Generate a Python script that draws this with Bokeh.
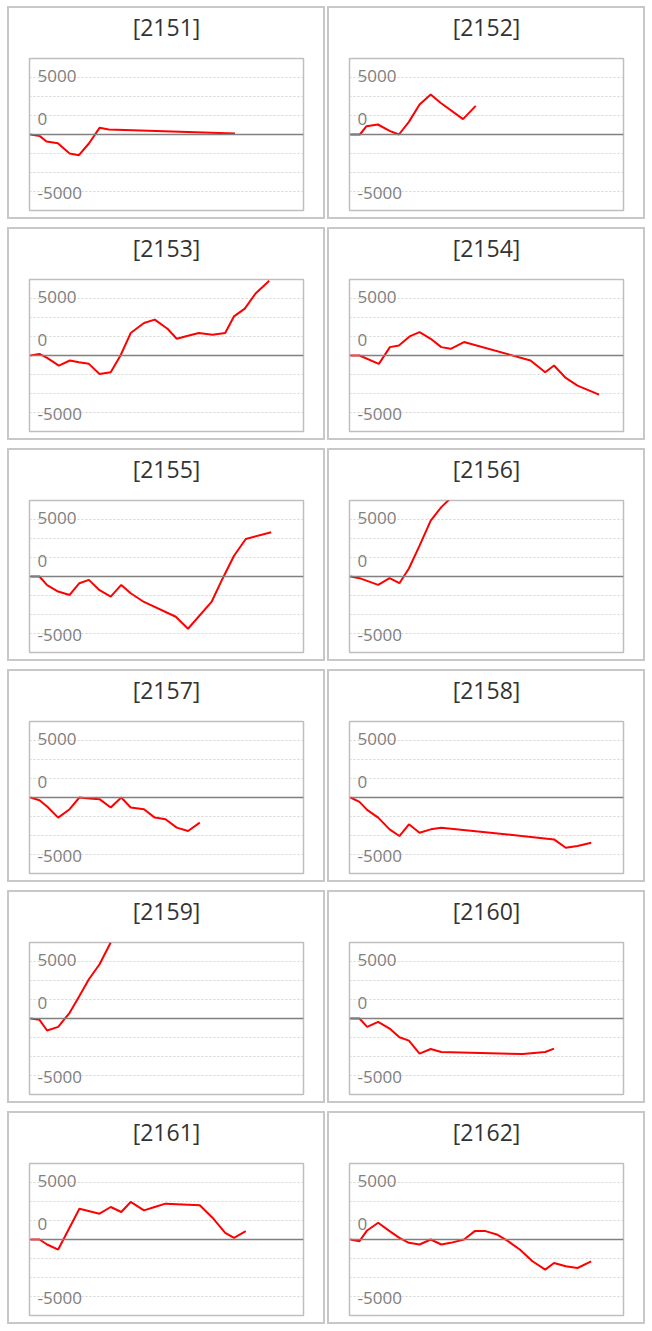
from bokeh.plotting import figure
from bokeh.layouts import gridplot
from bokeh.models import Span, FixedTicker, Range1d, Grid, Title
from bokeh.core.properties import value
from bokeh.embed import file_html
from bokeh.resources import INLINE

codes = ["2151", "2152", "2153", "2154", "2155", "2156",
         "2157", "2158", "2159", "2160", "2161", "2162"]

x2151 = [0, 0.96, 1.64, 2.8, 4.0, 4.95, 5.97, 7.06, 8.0, 20.9]
y2151 = [0, -140, -600, -740, -1620, -1770, -770, 570, 430, 85]

x2152 = [0, 0.96, 1.64, 2.8, 4.0, 4.95, 5.97, 7.06, 8.2, 9.2, 11.5, 12.8]
y2152 = [0, 0, 710, 855, 310, 0, 1080, 2565, 3420, 2710, 1310, 2450]

x2153 = [0, 0.92, 1.7, 2.9, 4.03, 4.95, 5.97, 7.06, 8.2, 9.2, 10.24, 11.6,
         12.7, 14.0, 14.95, 16.0, 17.2, 18.6, 19.9, 20.8, 21.9, 23.0, 24.4]
y2153 = [0, 140, -200, -860, -430, -570, -715, -1580, -1430, 0, 1920, 2780,
         3070, 2290, 1430, 1660, 1920, 1780, 1920, 3350, 4010, 5300, 6400]

x2154 = [0, 0.92, 2.9, 4.03, 4.95, 6.04, 7.06, 8.2, 9.28, 10.24, 11.6,
         18.4, 19.9, 20.8, 22.0, 23.2, 25.4]
y2154 = [0, 0, -715, 715, 860, 1630, 2000, 1430, 715, 570, 1150,
         -430, -1430, -860, -1920, -2580, -3350]

x2155 = [0, 0.92, 1.7, 2.83, 4.0, 5.0, 5.97, 7.06, 8.2, 9.28, 10.24, 11.6,
         14.85, 16.1, 18.5, 19.6, 20.8, 22.0, 24.6]
y2155 = [0, 0, -745, -1290, -1576, -573, -287, -1175, -1720, -717, -1433, -2178,
         -3440, -4470, -2178, -230, 1777, 3210, 3783]

x2156 = [0, 0.92, 2.83, 4.0, 5.0, 5.97, 7.06, 8.2, 9.28, 10.24]
y2156 = [0, -143, -717, -143, -573, 688, 2637, 4786, 5933, 6700]

x2157 = [0, 0.92, 1.7, 2.83, 4.0, 5.0, 5.97, 7.06, 8.2, 9.28, 10.24, 11.6,
         12.7, 13.8, 14.95, 16.1, 17.3]
y2157 = [0, -230, -774, -1720, -1003, 0, -86, -143, -860, 0, -860, -1003,
         -1720, -1863, -2580, -2866, -2150]

x2158 = [0, 0.92, 1.7, 2.83, 4.0, 5.0, 5.97, 7.06, 8.2, 9.28, 20.8, 22.0, 23.2, 24.6]
y2158 = [0, -373, -1060, -1720, -2723, -3296, -2293, -3009, -2723, -2580,
         -3583, -4300, -4156, -3870]

x2159 = [0, 0.92, 1.7, 2.83, 4.0, 5.0, 5.97, 7.06, 8.2]
y2159 = [0, -115, -1030, -717, 487, 1920, 3353, 4643, 6500]

x2160 = [0, 0.92, 1.7, 2.83, 4.0, 5.0, 5.97, 7.06, 8.2, 9.28, 17.6, 19.9, 20.8]
y2160 = [0, 0, -717, -287, -860, -1605, -1890, -3009, -2608, -2866, -3038, -2866, -2580]

x2161 = [0, 0.92, 1.7, 2.83, 5.0, 7.06, 8.2, 9.28, 10.24, 11.6, 12.7, 13.8,
         17.3, 18.6, 19.9, 20.8, 22.0]
y2161 = [0, 0, -430, -860, 2637, 2207, 2780, 2350, 3210, 2493, 2780, 3067,
         2923, 1863, 573, 143, 717]

x2162 = [0, 0.92, 1.7, 2.83, 4.0, 5.0, 5.97, 7.06, 8.2, 9.28, 10.24, 11.6,
         12.7, 13.8, 14.95, 16.1, 17.3, 18.6, 19.9, 20.8, 22.0, 23.2, 24.6]
y2162 = [0, -143, 774, 1433, 717, 143, -287, -430, 0, -430, -287, 0,
         717, 717, 430, -143, -860, -1863, -2580, -2006, -2293, -2436, -1863]

tick_values = [5000, -5000]
tick_labels = ["5000", "-5000"]
zero_label = "0"
grid_values = [-4875, -3250, -1625, 1625, 3250, 4875]

xs_all = [x2151, x2152, x2153, x2154, x2155, x2156, x2157, x2158, x2159, x2160, x2161, x2162]
ys_all = [y2151, y2152, y2153, y2154, y2155, y2156, y2157, y2158, y2159, y2160, y2161, y2162]

FONT = "Open Sans"
figs = []
for i, code in enumerate(codes):
    p = figure(width=318, height=213, output_backend="svg", toolbar_location=None, tools="",
               x_range=Range1d(-0.1, 27.9), y_range=Range1d(-6500, 6500),
               x_axis_location=None, y_axis_location=None,
               min_border_left=22, min_border_right=22, min_border_top=52,
               min_border_bottom=9,
               styles={"box-shadow": "inset 0 0 0 2px #c8c8c8"})
    p.grid.visible = False
    p.title.text = ""
    # spacer between the frame and the panel title
    p.add_layout(Title(text=" ", text_font_size="1px", standoff=11), "above")
    p.add_layout(Title(text="[" + code + "]", align="center", vertical_align="bottom",
                       text_font=FONT, text_font_size="23px", text_font_style="normal",
                       text_color="#333333", standoff=4), "above")
    p.outline_line_color = "#bfbfbf"
    p.outline_line_width = 1.5
    p.background_fill_color = "white"
    p.border_fill_alpha = 0

    g = Grid(dimension=1, ticker=FixedTicker(ticks=grid_values),
             grid_line_color="#d3d3d3", grid_line_dash="2 2", grid_line_width=1)
    p.add_layout(g, "center")
    p.add_layout(Span(location=0, dimension="width", line_color="#808080", line_width=1.5))

    p.text(x=[p.x_range.start] * len(tick_values), y=tick_values, text=tick_labels,
           x_offset=8, text_align="left", text_baseline="middle",
           text_font=value(FONT), text_font_size="17px", text_color="#808080")
    p.text(x=[p.x_range.start], y=[0], text=[zero_label],
           x_offset=8, y_offset=-16, text_align="left", text_baseline="middle",
           text_font=value(FONT), text_font_size="17px", text_color="#808080")

    p.line(xs_all[i], ys_all[i], line_color="#ff0000", line_width=2)
    figs.append(p)

grid = gridplot(figs, ncols=2, toolbar_location=None)
grid.spacing = (8, 2)
grid.margin = (6, 0, 0, 7)
open("out.html", "w").write(file_html(grid, INLINE))
